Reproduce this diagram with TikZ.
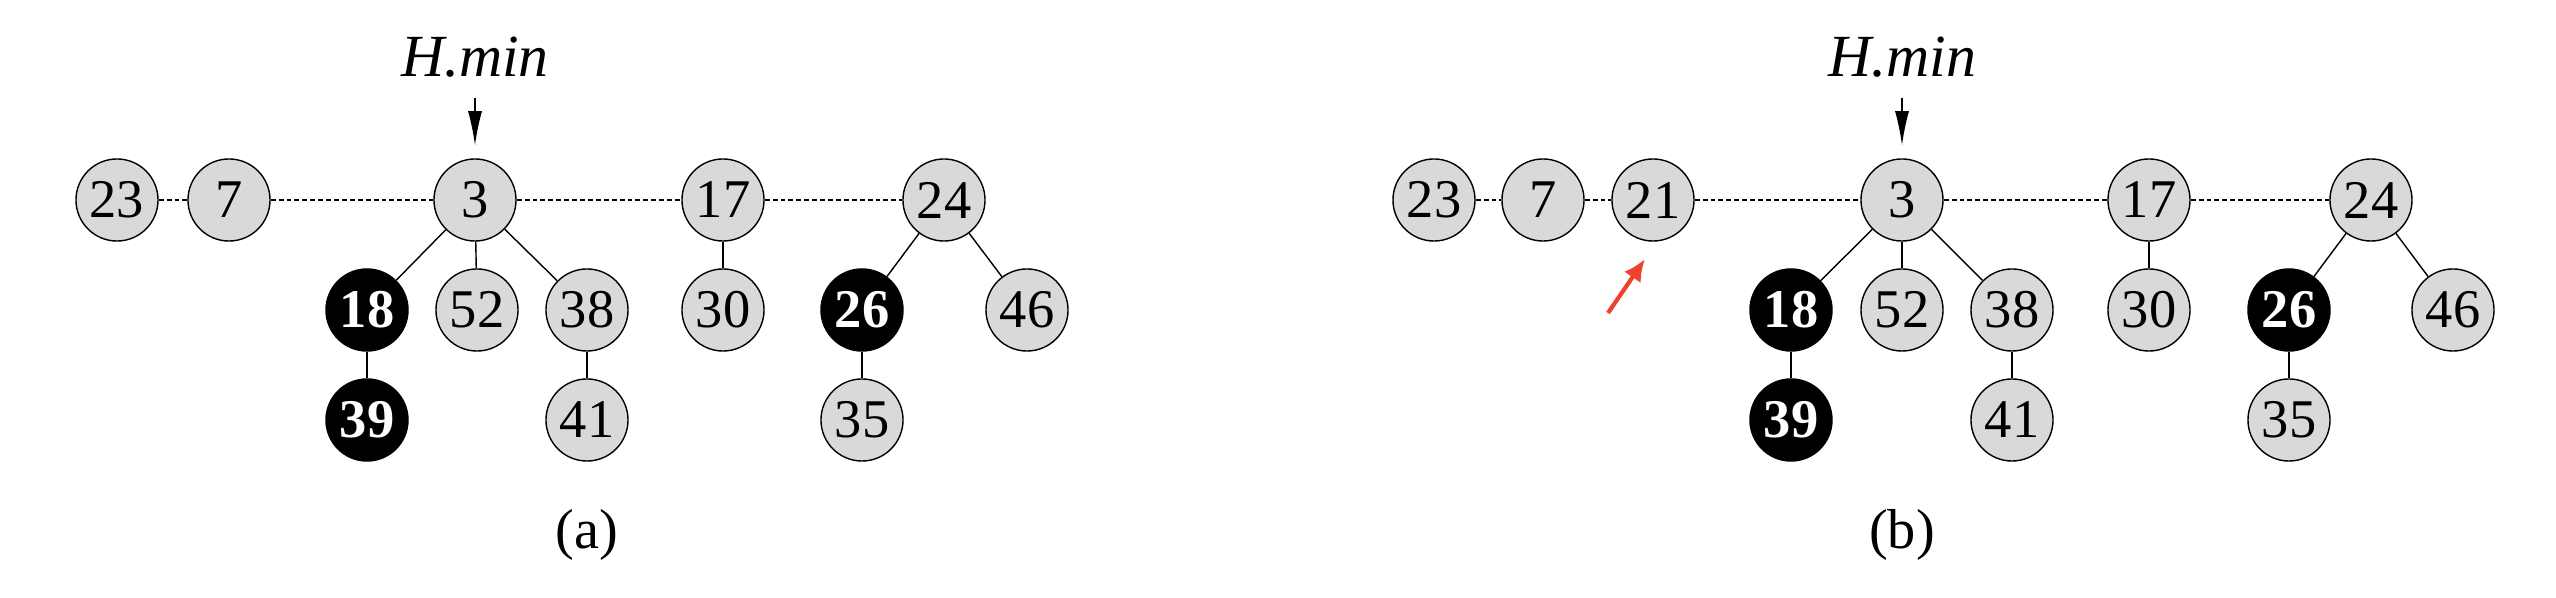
\documentclass[tikz,border=0pt]{standalone}
\usepackage{fontspec}
\setmainfont{Liberation Serif}
\usetikzlibrary{arrows.meta}
\definecolor{keygray}{RGB}{217,217,217}
\definecolor{newred}{RGB}{238,66,44}
\tikzset{
	key/.style={circle, draw, line width=0.4pt, fill=keygray, minimum size=0.82cm, inner sep=0pt, font=\fontsize{15.5}{18}\selectfont},
	marked/.style={key, fill=black, text=white, font=\fontsize{15.5}{18}\selectfont\bfseries},
	rootlist/.style={line width=0.35pt, dash pattern=on 1.4pt off 0.85pt},
	child/.style={line width=0.4pt},
	minptr/.style={->, line width=0.4pt, shorten >=0.13cm},
}
\begin{document}
\begin{tikzpicture}[x=0.01cm, y=-0.01cm, >={Latex[length=0.34cm, width=0.14cm]}]
	\useasboundingbox (0,0) rectangle (2556,598);
	%\draw [thin, help lines] (0,0) grid[step=100] (2556,598);
	% (a)
	\node[key] (a23) at (117,200) {23};
	\node[key] (a7) at (229,200) {7};
	\node[key] (a3) at (475,200) {3};
	\node[key] (a17) at (723,200) {17};
	\node[key] (a24) at (944,200) {24};
	\node[marked] (a18) at (367,310) {18};
	\node[key] (a52) at (477,310) {52};
	\node[key] (a38) at (587,310) {38};
	\node[key] (a30) at (723,310) {30};
	\node[marked] (a26) at (862,310) {26};
	\node[key] (a46) at (1027,310) {46};
	\node[marked] (a39) at (367,420) {39};
	\node[key] (a41) at (587,420) {41};
	\node[key] (a35) at (862,420) {35};
	\draw[rootlist] (a23) -- (a7);
	\draw[rootlist] (a7) -- (a3);
	\draw[rootlist] (a3) -- (a17);
	\draw[rootlist] (a17) -- (a24);
	\draw[child] (a3) -- (a18);
	\draw[child] (a3) -- (a52);
	\draw[child] (a3) -- (a38);
	\draw[child] (a18) -- (a39);
	\draw[child] (a38) -- (a41);
	\draw[child] (a17) -- (a30);
	\draw[child] (a24) -- (a26);
	\draw[child] (a24) -- (a46);
	\draw[child] (a26) -- (a35);
	\node[font=\fontsize{17}{20}\selectfont\itshape] (amin) at (475,57) {H.min};
	\draw[minptr] (amin.south) ++(0,8) coordinate (afrom) (afrom) -- (a3);
	\node[font=\fontsize{16}{19}\selectfont] (alabel) at (587,535) {(a)};
	% (b)
	\node[key] (b23) at (1434,200) {23};
	\node[key] (b7) at (1543,200) {7};
	\node[key] (b21) at (1653,200) {21};
	\node[key] (b3) at (1902,200) {3};
	\node[key] (b17) at (2149,200) {17};
	\node[key] (b24) at (2371,200) {24};
	\node[marked] (b18) at (1791,310) {18};
	\node[key] (b52) at (1902,310) {52};
	\node[key] (b38) at (2012,310) {38};
	\node[key] (b30) at (2149,310) {30};
	\node[marked] (b26) at (2289,310) {26};
	\node[key] (b46) at (2453,310) {46};
	\node[marked] (b39) at (1791,420) {39};
	\node[key] (b41) at (2012,420) {41};
	\node[key] (b35) at (2289,420) {35};
	\draw[rootlist] (b23) -- (b7);
	\draw[rootlist] (b7) -- (b21);
	\draw[rootlist] (b21) -- (b3);
	\draw[rootlist] (b3) -- (b17);
	\draw[rootlist] (b17) -- (b24);
	\draw[child] (b3) -- (b18);
	\draw[child] (b3) -- (b52);
	\draw[child] (b3) -- (b38);
	\draw[child] (b18) -- (b39);
	\draw[child] (b38) -- (b41);
	\draw[child] (b17) -- (b30);
	\draw[child] (b24) -- (b26);
	\draw[child] (b24) -- (b46);
	\draw[child] (b26) -- (b35);
	\node[font=\fontsize{17}{20}\selectfont\itshape] (bmin) at (1902,57) {H.min};
	\draw[minptr] (bmin.south) ++(0,8) coordinate (bfrom) (bfrom) -- (b3);
	\node[font=\fontsize{16}{19}\selectfont] (blabel) at (1902,535) {(b)};
	% new root marker
	\coordinate (tail) at (1608,313);
	\coordinate (tip) at (1645,259);
	\draw[-{Latex[length=0.22cm, width=0.2cm]}, newred, line width=1.2pt] (tail) -- (tip);
\end{tikzpicture}
\end{document}
